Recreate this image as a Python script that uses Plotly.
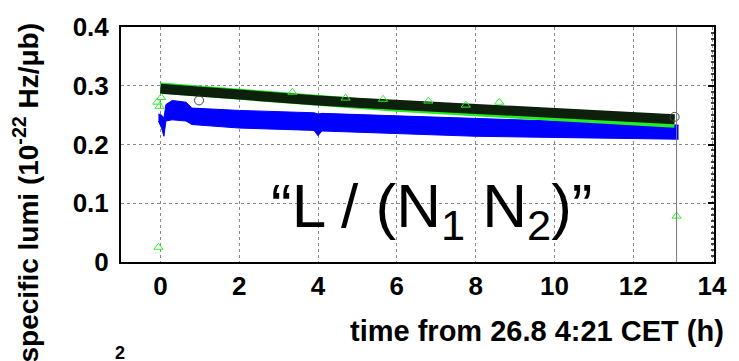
import plotly.graph_objects as go

# ---- data ----
blue_x = [-0.05, 0.03, 0.09, 0.14, 0.3, 0.65, 0.8, 2.0, 3.9, 4.0, 4.1, 6.0, 8.0, 10.0, 12.0, 13.15]
blue_hi = [0.252, 0.250, 0.245, 0.268, 0.275, 0.272, 0.262, 0.258, 0.254, 0.252, 0.253, 0.249, 0.244, 0.240, 0.236, 0.233]
blue_lo = [0.240, 0.228, 0.214, 0.240, 0.242, 0.240, 0.234, 0.228, 0.224, 0.215, 0.223, 0.218, 0.214, 0.212, 0.210, 0.209]

band_x = [0, 1, 2, 3, 4, 5, 6, 7, 8, 9, 10, 11, 12, 13.05]
black_y = [0.295, 0.289, 0.284, 0.279, 0.275, 0.271, 0.267, 0.263, 0.259, 0.256, 0.252, 0.249, 0.246, 0.243]
green_y = [0.296, 0.290, 0.284, 0.279, 0.274, 0.270, 0.265, 0.261, 0.257, 0.253, 0.249, 0.246, 0.242, 0.238]

green_out_x = [-0.05, 13.1, -0.08, -0.02, 0.02, 3.35, 4.7, 5.65, 6.8, 7.75, 8.6]
green_out_y = [0.025, 0.078, 0.272, 0.265, 0.280, 0.289, 0.279, 0.277, 0.274, 0.267, 0.272]

black_out_x = [0.98, 13.05]
black_out_y = [0.275, 0.247]

end_time = 13.1

x_ticks = [0, 2, 4, 6, 8, 10, 12, 14]
y_ticks = [0, 0.1, 0.2, 0.3, 0.4]
y_tick_text = ["0", "0.1", "0.2", "0.3", "0.4"]

FONT = "Liberation Sans, Arial, sans-serif"

fig = go.Figure()

fig.add_trace(go.Scatter(x=blue_x, y=blue_lo, mode="lines", line=dict(color="#0000ff", width=1),
                         showlegend=False, hoverinfo="skip"))
fig.add_trace(go.Scatter(x=blue_x, y=blue_hi, mode="lines", line=dict(color="#0000ff", width=1),
                         fill="tonexty", fillcolor="#0000ff", showlegend=False, hoverinfo="skip"))

fig.add_trace(go.Scatter(x=band_x, y=green_y, mode="lines", line=dict(color="#22ee22", width=11),
                         showlegend=False, hoverinfo="skip"))
fig.add_trace(go.Scatter(x=band_x, y=black_y, mode="lines", line=dict(color="#0c200c", width=10),
                         showlegend=False, hoverinfo="skip"))

fig.add_trace(go.Scatter(x=green_out_x, y=green_out_y, mode="markers",
                         marker=dict(symbol="triangle-up-open", size=8, color="#33ee33", line=dict(width=1)),
                         showlegend=False))
fig.add_trace(go.Scatter(x=black_out_x, y=black_out_y, mode="markers",
                         marker=dict(symbol="circle-open", size=9, color="#444444", line=dict(width=1)),
                         showlegend=False))

fig.add_vline(x=end_time, line=dict(color="#777777", width=1))

# invisible trace for right axis ticks
fig.add_trace(go.Scatter(x=band_x, y=black_y, yaxis="y2", mode="markers",
                         marker=dict(opacity=0), showlegend=False, hoverinfo="skip"))

fig.update_layout(
    width=739, height=361,
    margin=dict(l=121, r=16, t=20, b=99),
    plot_bgcolor="white", paper_bgcolor="white",
    font=dict(family=FONT, color="black"),
    xaxis=dict(range=[-1, 14.05], tickvals=x_ticks, showgrid=True, gridcolor="#8a8a8a",
               griddash="dot", gridwidth=1, showline=True, linecolor="black", linewidth=2,
               mirror=True, ticks="", zeroline=False, ticklabelstandoff=0,
               tickfont=dict(size=26, family=FONT, weight="bold")),
    yaxis=dict(range=[0, 0.4], tickvals=y_ticks, ticktext=y_tick_text, showgrid=True,
               gridcolor="#8a8a8a", griddash="dot", gridwidth=1, showline=True, linecolor="black",
               linewidth=2, mirror=True, ticks="", zeroline=False, ticklabelstandoff=5,
               tickfont=dict(size=26, family=FONT, weight="bold")),
    yaxis2=dict(range=[0, 0.4], overlaying="y", side="right", showgrid=False, showline=False,
                ticks="inside", ticklen=6, tickwidth=1.5, tickcolor="black", dtick=0.1,
                showticklabels=False, zeroline=False,
                minor=dict(ticks="inside", dtick=0.01, ticklen=3, tickcolor="#444444", tickwidth=1.5)),
)

# axis titles as annotations (positioned like the reference)
fig.add_annotation(x=0.701, y=-0.293, xref="paper", yref="paper",
                   text="<b>time from 26.8 4:21 CET (h)</b>", showarrow=False,
                   font=dict(size=29, family=FONT, color="black"),
                   xanchor="center", yanchor="middle")
fig.add_annotation(x=-0.1595, y=0.2975, xref="paper", yref="paper",
                   text="<b>specific lumi (10<sup>-22</sup> Hz/μb)</b>", showarrow=False,
                   textangle=-90,
                   font=dict(size=28, family=FONT, color="black"),
                   xanchor="center", yanchor="middle")
fig.add_annotation(x=-0.002, y=-0.335, xref="paper", yref="paper",
                   text="<b>2</b>", showarrow=False,
                   font=dict(size=18, family=FONT, color="black"),
                   xanchor="center", yanchor="top")

fig.add_annotation(x=6.9, y=0.088, xref="x", yref="y",
                   text="“L / (N<sub>1</sub> N<sub>2</sub>)”", showarrow=False,
                   font=dict(size=62, family=FONT, color="black"),
                   xanchor="center", yanchor="middle")

fig.write_html("out.html")
